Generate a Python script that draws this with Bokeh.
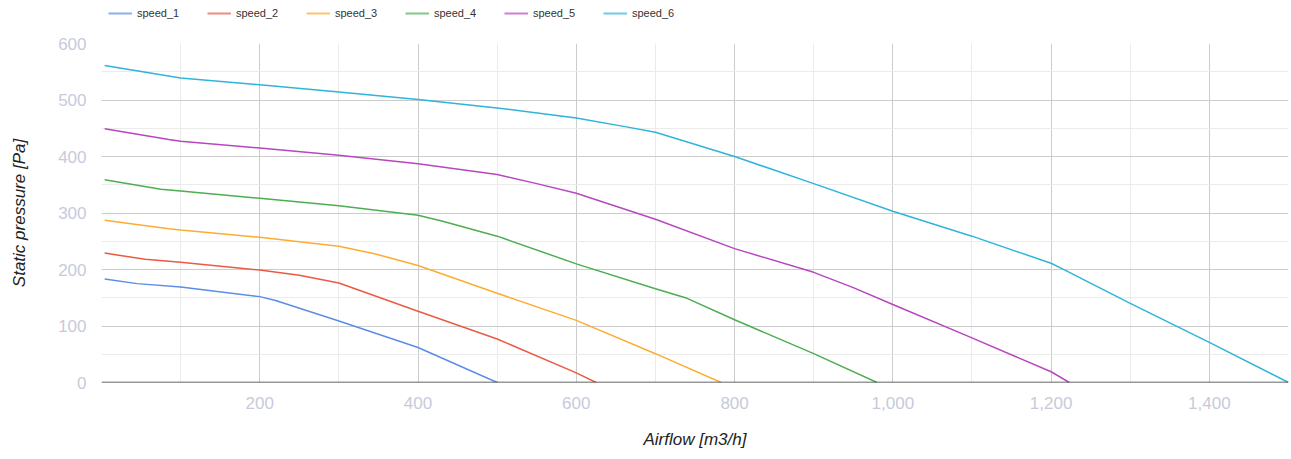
from bokeh.plotting import figure
from bokeh.layouts import column
from bokeh.models import (Range1d, FixedTicker, NumeralTickFormatter, Legend, LegendItem, Span)
from bokeh.embed import file_html
from bokeh.resources import INLINE

series_names = ["speed_1", "speed_2", "speed_3", "speed_4", "speed_5", "speed_6"]

speed_1_x = [4, 45, 100, 200, 220, 300, 400, 500]
speed_1_y = [183, 175, 169, 152, 145, 109, 62, 0]

speed_2_x = [4, 55, 100, 200, 250, 300, 400, 500, 600, 625]
speed_2_y = [229, 218, 213, 199, 190, 176, 126, 77, 17, 0]

speed_3_x = [4, 85, 100, 200, 300, 345, 400, 500, 600, 700, 783]
speed_3_y = [287, 272, 270, 257, 241, 228, 207, 158, 110, 51, 0]

speed_4_x = [4, 75, 100, 200, 300, 400, 430, 500, 600, 700, 740, 800, 900, 980]
speed_4_y = [359, 342, 339, 326, 313, 296, 286, 259, 210, 166, 149, 111, 51, 0]

speed_5_x = [4, 85, 100, 200, 300, 400, 500, 550, 600, 700, 800, 900, 950, 1000, 1100, 1200, 1223]
speed_5_y = [449, 430, 427, 415, 402, 387, 368, 352, 335, 289, 237, 195, 168, 138, 79, 19, 0]

speed_6_x = [4, 100, 200, 300, 400, 500, 600, 665, 700, 800, 900, 1000, 1100, 1200, 1220, 1300, 1400, 1500]
speed_6_y = [561, 539, 527, 514, 501, 486, 468, 452, 443, 400, 352, 303, 259, 211, 197, 140, 71, 0]

x_ticks = [200, 400, 600, 800, 1000, 1200, 1400]
x_minor = [0, 100, 300, 500, 700, 900, 1100, 1300, 1500]
y_ticks = [0, 100, 200, 300, 400, 500, 600]
y_minor = [50, 150, 250, 350, 450, 550]

colors = ["#5b8de6", "#ea5a44", "#fdac33", "#4cae50", "#b846c0", "#2fb4da"]

xs = [speed_1_x, speed_2_x, speed_3_x, speed_4_x, speed_5_x, speed_6_x]
ys = [speed_1_y, speed_2_y, speed_3_y, speed_4_y, speed_5_y, speed_6_y]

FONT = "Liberation Sans"
TICK_COLOR = "#c6cbdb"

# ---- legend strip (separate figure on top) ----
lg = figure(width=1290, height=27, output_backend="svg", toolbar_location=None,
            x_range=Range1d(0, 1500), y_range=Range1d(0, 600),
            min_border_left=88, min_border_right=0, min_border_top=0, min_border_bottom=0)
lg.outline_line_color = None
lg.axis.visible = False
lg.grid.visible = False
lg_items = []
for name, x, y, c in zip(series_names, xs, ys, colors):
    r = lg.line(x, y, line_color=c, line_width=2, line_alpha=0.7)
    r.visible = False
    lg_items.append(LegendItem(label=name, renderers=[r]))
legend = Legend(items=lg_items, orientation="horizontal", location="top_left",
                padding=0, margin=7, spacing=6, glyph_width=24, glyph_height=12,
                label_standoff=5, label_width=64, label_height=12,
                label_text_font=FONT, label_text_font_size="11px",
                label_text_color="#333333", background_fill_alpha=0,
                border_line_alpha=0, inactive_fill_alpha=0)
lg.add_layout(legend, "center")

# ---- main chart ----
p = figure(frame_width=1187, frame_height=339, output_backend="svg", toolbar_location=None,
           x_range=Range1d(0, 1500), y_range=Range1d(0, 600),
           min_border_left=101, min_border_right=2, min_border_top=16, min_border_bottom=66)
p.outline_line_color = None

p.xgrid.ticker = FixedTicker(ticks=x_ticks, minor_ticks=x_minor)
p.xgrid.grid_line_color = "#cccccc"
p.xgrid.minor_grid_line_color = "#ebebeb"
p.ygrid.ticker = FixedTicker(ticks=y_ticks, minor_ticks=y_minor)
p.ygrid.grid_line_color = "#cccccc"
p.ygrid.minor_grid_line_color = "#ebebeb"

p.xaxis.ticker = FixedTicker(ticks=x_ticks)
p.xaxis.formatter = NumeralTickFormatter(format="0,0")
p.yaxis.ticker = FixedTicker(ticks=y_ticks)
for ax in (p.xaxis[0], p.yaxis[0]):
    ax.axis_line_color = None
    ax.major_tick_line_color = None
    ax.minor_tick_line_color = None
    ax.major_label_text_font = FONT
    ax.major_label_text_font_size = "17px"
    ax.major_label_text_color = TICK_COLOR
    ax.axis_label_text_font = FONT
    ax.axis_label_text_font_size = "17px"
    ax.axis_label_text_font_style = "italic"
    ax.axis_label_text_color = "#222222"
p.xaxis.axis_label = "Airflow [m3/h]"
p.yaxis.axis_label = "Static pressure [Pa]"
p.xaxis.major_label_standoff = 8
p.xaxis.axis_label_standoff = 18
p.yaxis.major_label_standoff = 9
p.yaxis.axis_label_standoff = 26

for name, x, y, c in zip(series_names, xs, ys, colors):
    p.line(x, y, line_color=c, line_width=1.5)

p.add_layout(Span(location=0, dimension="width", line_color="#333333", line_width=1.5))

layout = column(lg, p, spacing=0)
open("out.html", "w").write(file_html(layout, INLINE))
